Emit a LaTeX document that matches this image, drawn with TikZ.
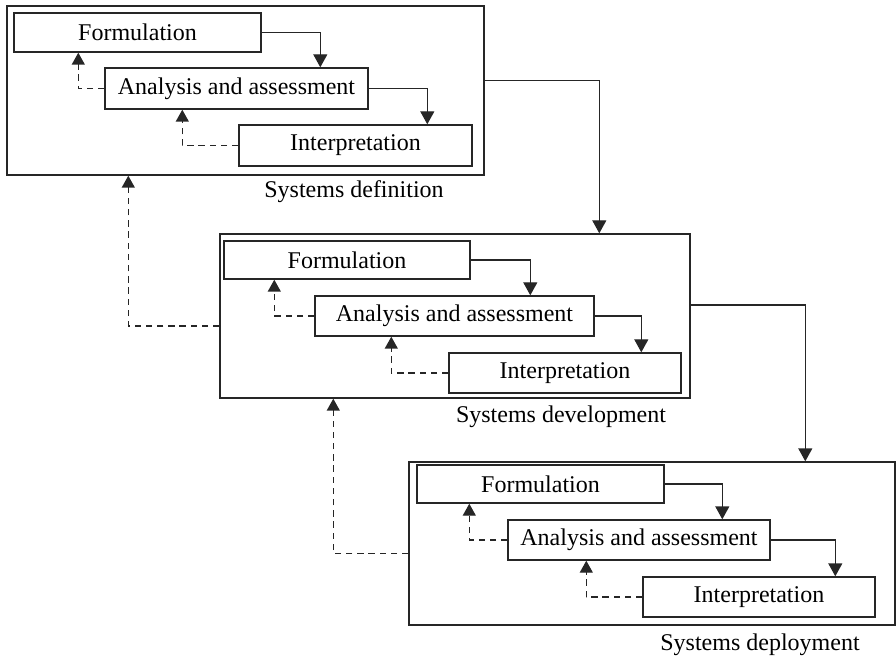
\documentclass[tikz,border=0pt]{standalone}
\usepackage{fontspec}
\setmainfont{Liberation Serif}
\usetikzlibrary{calc,arrows.meta}

% a rectangle given by its corners (in pixel units), with a name and a text
\newcommand\blk[6]{\node[blkbox, minimum width={(#4-#2)*0.5pt}, minimum height={(#5-#3)*0.5pt}] (#1) at ({(#2+#4)/2},{(#3+#5)/2}) {#6};}

\begin{document}
\begin{tikzpicture}[x=0.5pt, y=-0.5pt,
  blkbox/.style={draw=black!85, line width=0.7pt, inner sep=0pt, font=\fontsize{12}{14}\selectfont},
  stagelabel/.style={font=\fontsize{12}{14}\selectfont},
  flow/.style={draw=black!85, line width=0.7pt, -{Triangle[length=6.5pt,width=7pt]}},
  back/.style={draw=black!85, line width=0.7pt, dash pattern=on 3.2pt off 2.4pt, -{Triangle[length=6pt,width=6.5pt]}}]
\useasboundingbox (0,0) rectangle (896,658);

% stage frames
\blk{b1}{7}{6}{484}{175}{}
\blk{b2}{220}{234}{690}{398}{}
\blk{b3}{409}{462}{895}{625}{}

% systems definition
\blk{f1}{14}{13}{261}{52}{Formulation}
\blk{a1}{105}{68}{368}{109}{Analysis and assessment}
\blk{i1}{239}{125}{472}{166}{Interpretation}
\node[stagelabel] (l1) at (354,192) {Systems definition};

% systems development
\blk{f2}{224}{241}{470}{279}{Formulation}
\blk{a2}{315}{296}{594}{336}{Analysis and assessment}
\blk{i2}{449}{353}{681}{393}{Interpretation}
\node[stagelabel] (l2) at (561,417) {Systems development};

% systems deployment
\blk{f3}{417}{465}{664}{503}{Formulation}
\blk{a3}{508}{520}{770}{560}{Analysis and assessment}
\blk{i3}{643}{577}{875}{617}{Interpretation}
\node[stagelabel] (l3) at (760,645) {Systems deployment};

% forward steps inside each stage
\draw[flow] (f1.east) -| ($(a1.north west)+(216,0)$);
\draw[flow] (a1.east) -| ($(i1.north west)+(189,0)$);
\draw[flow] (f2.east) -| ($(a2.north west)+(216,0)$);
\draw[flow] (a2.east) -| ($(i2.north west)+(193,0)$);
\draw[flow] (f3.east) -| ($(a3.north west)+(215,0)$);
\draw[flow] (a3.east) -| ($(i3.north west)+(193,0)$);

% feedback inside each stage
\draw[back] (a1.west) -| ($(f1.south west)+(65,0)$);
\draw[back] (i1.west) -| ($(a1.south west)+(78,0)$);
\draw[back] (a2.west) -| ($(f2.south west)+(51,0)$);
\draw[back] (i2.west) -| ($(a2.south west)+(77,0)$);
\draw[back] (a3.west) -| ($(f3.south west)+(53,0)$);
\draw[back] (i3.west) -| ($(a3.south west)+(79,0)$);

% forward steps between stages
\draw[flow] ($(b1.east)+(0,-10)$) -| ($(b2.north west)+(380,0)$);
\draw[flow] ($(b2.east)+(0,-11)$) -| ($(b3.north west)+(397,0)$);

% feedback between stages
\draw[back] ($(b2.west)+(0,10)$) -| ($(b1.south west)+(122,0)$);
\draw[back] ($(b3.west)+(0,10)$) -| ($(b2.south west)+(114,0)$);
\end{tikzpicture}
\end{document}
